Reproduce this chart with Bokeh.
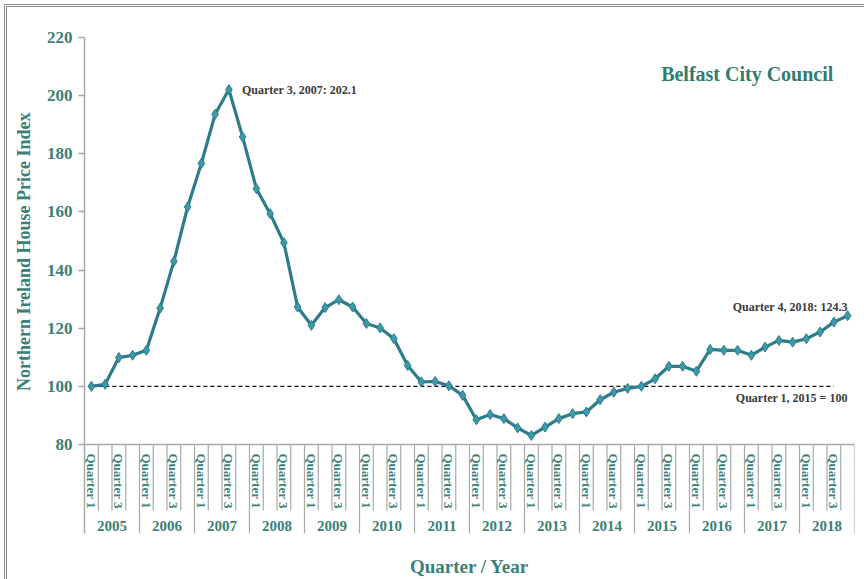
import math
from bokeh.plotting import figure
from bokeh.models import Range1d, FixedTicker, Label
from bokeh.core.properties import value
from bokeh.embed import file_html
from bokeh.resources import INLINE

# ---------------- data ----------------
years = ["2005", "2006", "2007", "2008", "2009", "2010", "2011",
         "2012", "2013", "2014", "2015", "2016", "2017", "2018"]
quarters = ["Quarter 1", "Quarter 2", "Quarter 3", "Quarter 4"]
shown_quarters = ["Quarter 1", "Quarter 3"]

hpi = [
    100.0, 100.7, 109.9, 110.7,   # 2005
    112.4, 126.9, 143.0, 161.7,   # 2006
    176.7, 193.6, 202.1, 185.8,   # 2007
    168.0, 159.4, 149.4, 127.3,   # 2008
    121.0, 127.1, 129.8, 127.3,   # 2009
    121.6, 120.1, 116.4, 107.2,   # 2010
    101.5, 101.7, 100.2, 96.9,    # 2011
    88.5, 90.3, 88.9, 85.7,       # 2012
    83.1, 86.0, 88.9, 90.6,       # 2013
    91.2, 95.4, 98.0, 99.3,       # 2014
    100.0, 102.6, 106.9, 106.9,   # 2015
    105.2, 112.7, 112.4, 112.4,   # 2016
    110.7, 113.5, 115.8, 115.2,   # 2017
    116.4, 118.7, 122.1, 124.3,   # 2018
]
base_value = 100
y_ticks = [80, 100, 120, 140, 160, 180, 200, 220]

title_text = "Belfast City Council"
y_title = "Northern Ireland House Price Index"
x_title = "Quarter / Year"
peak_text = "Quarter 3, 2007: 202.1"
last_text = "Quarter 4, 2018: 124.3"
base_text = "Quarter 1, 2015 = 100"

# ---------------- styling ----------------
FONT = value("Liberation Serif")
TEAL_TEXT = "#3a7f78"
TITLE_COL = "#2f7d6e"
LINE_COL = "#2d7c8a"
MARK_FILL = "#3e9aaa"
GRID_COL = "#a8a8a8"
NOTE_COL = "#3a3a3a"
FRAME_COL = "#8c8c8c"

n_q = len(quarters)
n = len(hpi)
xs = [i + 0.5 for i in range(n)]
y_min, y_max = y_ticks[0], y_ticks[-1]
px_per_unit = 2.907
y_bottom = y_min - 89 / px_per_unit        # frame extends under the axis for category labels
q_line_end = y_min - 66 / px_per_unit
q_label_top = y_min - 9 / px_per_unit
year_label_y = y_min - 82 / px_per_unit

p = figure(width=864, height=579, output_backend="svg", toolbar_location=None,
           x_range=Range1d(0, n), y_range=Range1d(y_bottom, y_max),
           min_border_left=84, min_border_right=10, min_border_top=37, min_border_bottom=46)
p.outline_line_color = None
p.xgrid.visible = False
p.ygrid.visible = False
p.background_fill_color = "white"
p.border_fill_color = None
p.styles = {
    "background-color": "white",
    "box-shadow": (f"inset 4px 4px 0 0 white, inset 5px 5px 0 0 {FRAME_COL}, "
                   f"inset 6px 6px 0 0 white, inset 7px 7px 0 0 {FRAME_COL}"),
}

# y axis
p.yaxis.ticker = FixedTicker(ticks=y_ticks)
p.yaxis.axis_line_color = GRID_COL
p.yaxis.axis_line_width = 1.5
p.yaxis.major_tick_line_color = GRID_COL
p.yaxis.major_tick_line_width = 1.5
p.yaxis.major_tick_out = 6
p.yaxis.major_tick_in = 0
p.yaxis.minor_tick_line_color = None
p.yaxis.major_label_text_font = "Liberation Serif"
p.yaxis.major_label_text_font_style = "bold"
p.yaxis.major_label_text_font_size = "17px"
p.yaxis.major_label_text_color = TEAL_TEXT
p.yaxis.major_label_standoff = 6
# title is centred on the whole frame; leading no-break spaces lift it to the value area
p.yaxis.axis_label = "\u00a0" * 15 + y_title
p.yaxis.axis_label_text_font = "Liberation Serif"
p.yaxis.axis_label_text_font_style = "bold"
p.yaxis.axis_label_text_font_size = "18px"
p.yaxis.axis_label_text_color = TEAL_TEXT
p.yaxis.axis_label_standoff = 10

# x axis: only the title
p.xaxis.ticker = FixedTicker(ticks=[])
p.xaxis.axis_line_color = None
p.xaxis.major_tick_line_color = None
p.xaxis.minor_tick_line_color = None
p.xaxis.major_tick_out = 0
p.xaxis.major_label_standoff = 0
p.xaxis.axis_label = x_title
p.xaxis.axis_label_text_font = "Liberation Serif"
p.xaxis.axis_label_text_font_style = "bold"
p.xaxis.axis_label_text_font_size = "19px"
p.xaxis.axis_label_text_color = TEAL_TEXT
p.xaxis.axis_label_standoff = 22

# horizontal axis line at the minimum
p.segment(x0=[0], y0=[y_min], x1=[n], y1=[y_min], line_color=GRID_COL, line_width=1.5)

# category separators
bounds = list(range(1, n + 1))
ends = [y_bottom if b % n_q == 0 else q_line_end for b in bounds]
p.segment(x0=bounds, y0=[y_min] * len(bounds), x1=bounds, y1=ends,
          line_color=GRID_COL, line_width=1.2)

# quarter labels
qx, qt = [], []
for yi, yr in enumerate(years):
    for qi, q in enumerate(quarters):
        if q in shown_quarters:
            qx.append(yi * n_q + qi + 0.5)
            qt.append(q)
p.text(x=qx, y=[q_label_top] * len(qx), text=qt, angle=-math.pi / 2,
       text_align="left", text_baseline="middle", text_font=FONT,
       text_font_style="bold", text_font_size="13px", text_color=TEAL_TEXT)

# year labels
p.text(x=[yi * n_q + n_q / 2 for yi in range(len(years))], y=[year_label_y] * len(years),
       text=years, text_align="center", text_baseline="middle", text_font=FONT,
       text_font_style="bold", text_font_size="15px", text_color=TEAL_TEXT)

# baseline dashed
p.line(x=xs[:n - 1], y=[base_value] * (n - 1), line_color="black", line_width=1.2,
       line_dash="4 3")

# series
p.line(x=xs, y=hpi, line_color=LINE_COL, line_width=3.2)
p.scatter(x=xs, y=hpi, marker="diamond", size=10, fill_color=MARK_FILL,
          line_color=LINE_COL, line_width=1)

# annotations
peak_i = hpi.index(max(hpi))
p.add_layout(Label(x=xs[peak_i], y=hpi[peak_i], x_offset=13, text=peak_text,
                   text_baseline="middle", text_font="Liberation Serif",
                   text_font_style="bold", text_font_size="12px", text_color=NOTE_COL))
p.add_layout(Label(x=xs[-1], y=hpi[-1], y_offset=9, text=last_text,
                   text_align="right", text_baseline="middle", text_font="Liberation Serif",
                   text_font_style="bold", text_font_size="12px", text_color=NOTE_COL))
p.add_layout(Label(x=xs[-1], y=base_value, y_offset=-12, text=base_text,
                   text_align="right", text_baseline="middle", text_font="Liberation Serif",
                   text_font_style="bold", text_font_size="12px", text_color=NOTE_COL))
p.add_layout(Label(x=48.2, y=207.6, text=title_text, text_align="center",
                   text_baseline="middle", text_font="Liberation Serif",
                   text_font_style="bold", text_font_size="20px", text_color=TITLE_COL))

open("out.html", "w").write(file_html(p, INLINE))
